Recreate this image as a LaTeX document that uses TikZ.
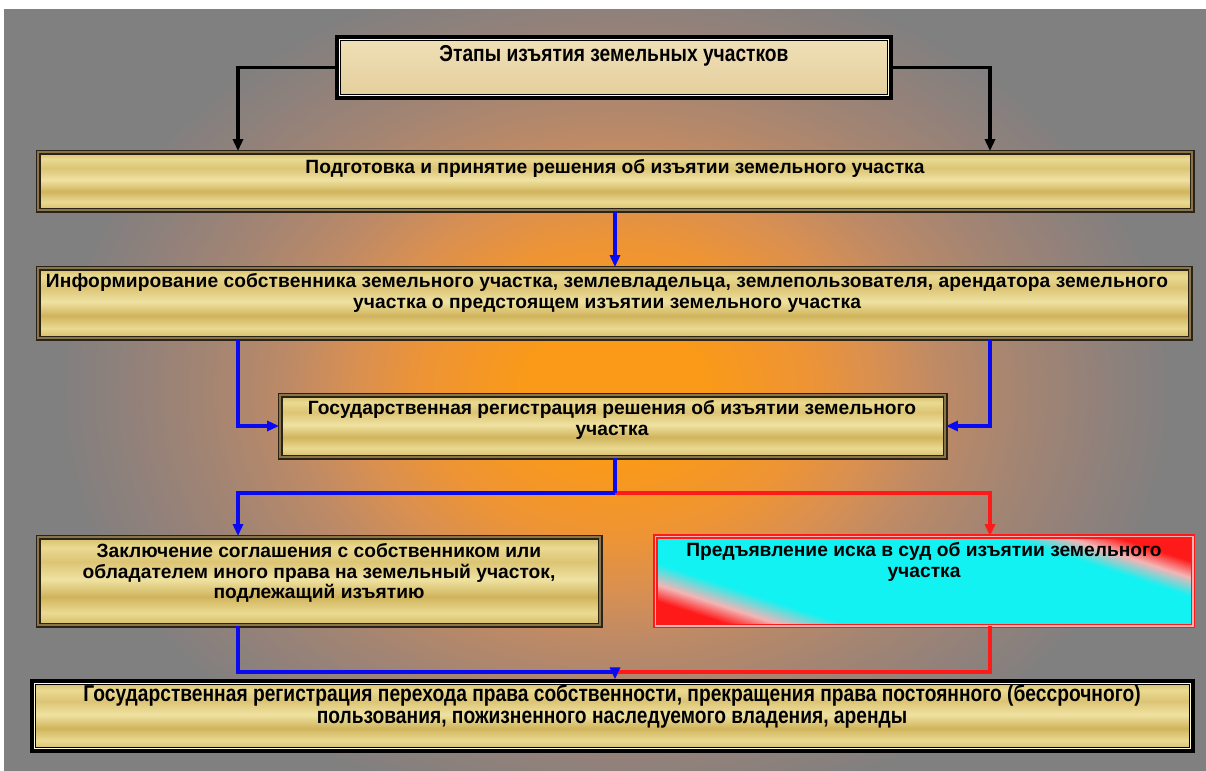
\documentclass[tikz,border=0pt]{standalone}
\usepackage{fontspec}
\setmainfont{Liberation Sans}
\newfontfamily\narrowfont[FakeStretch=0.835]{Liberation Sans}
\usetikzlibrary{arrows.meta,calc}
\definecolor{bggr}{HTML}{808080}
\definecolor{bgor}{HTML}{FA9A18}
\definecolor{bgcb}{HTML}{EE9434}
\definecolor{bgcc}{HTML}{DA9050}
\definecolor{bgcd}{HTML}{BE8A66}
\definecolor{bgce}{HTML}{A58572}
\definecolor{bgcf}{HTML}{92817A}
\definecolor{gA}{HTML}{D6BD68}
\definecolor{gB}{HTML}{EADA92}
\definecolor{gC}{HTML}{D0B45C}
\definecolor{gD}{HTML}{DCC474}
\definecolor{gE}{HTML}{EFE2A2}
\definecolor{pink}{HTML}{F4B4B4}
\definecolor{cyanC}{HTML}{12F2F2}
\definecolor{redC}{HTML}{FF1A1A}
\definecolor{bordC}{HTML}{2A2418}
\definecolor{bordL}{HTML}{8A7448}
\definecolor{papA}{HTML}{F0E0B8}
\definecolor{papB}{HTML}{E4CE9C}
\definecolor{blueC}{HTML}{0A0AF0}
\pgfdeclareradialshading{bgshade}{\pgfpoint{0bp}{0bp}}{color(0bp)=(bgor);color(4bp)=(bgor);color(8.5bp)=(bgcb);color(11.5bp)=(bgcc);color(14.5bp)=(bgcd);color(18bp)=(bgce);color(21.5bp)=(bgcf);color(25bp)=(bggr);color(50bp)=(bggr)}
\pgfdeclareverticalshading{goldshade}{100bp}{color(0bp)=(gA);color(25bp)=(gA);color(32bp)=(gB);color(41bp)=(gC);color(51bp)=(gE);color(61bp)=(gD);color(69bp)=(gB);color(75bp)=(gA);color(100bp)=(gA)}
\pgfdeclareverticalshading{cyanred}{100bp}{color(0bp)=(redC);color(30.5bp)=(redC);color(33.5bp)=(pink);color(37.5bp)=(cyanC);color(63bp)=(cyanC);color(66.5bp)=(pink);color(69.5bp)=(redC);color(100bp)=(redC)}
\tikzset{
  goldbox/.style={draw=bordC, line width=0.9pt, double=bordL, double distance=0.7pt, shading=goldshade, inner sep=0pt},
  thickbox/.style={draw=black, line width=2.6pt, inner sep=0pt},
  redbox/.style={draw=redC, line width=0.8pt, double=pink, double distance=0.7pt, inner sep=0pt},
  txt/.style={align=center, inner sep=0pt, font=\bfseries\fontsize{9.6}{10.4}\selectfont, text=black},
  ntxt/.style={align=center, inner sep=0pt, font=\narrowfont\bfseries\fontsize{11.5}{11}\selectfont, text=black},
  conn/.style={line width=1.6pt, -{Triangle[length=6pt,width=5pt]}},
  plain/.style={line width=1.6pt},
}
\begin{document}
\begin{tikzpicture}[x=0.5pt,y=-0.5pt]
\useasboundingbox (0,0) rectangle (1206,771);
\fill[white] (0,0) rectangle (1206,771);
\begin{scope}
\clip (4,9) rectangle (1206,771);
\fill[bggr] (4,9) rectangle (1206,771);
\shade[shading=bgshade] (615,390) ellipse [x radius=560, y radius=430];
\end{scope}
% boxes
\node[thickbox, top color=papA, bottom color=papB, minimum width=276pt, minimum height=29.5pt] (t) at (614,67.5) {};
\node[goldbox, minimum width=577pt, minimum height=29pt] (b2) at (615,181) {};
\node[goldbox, minimum width=576pt, minimum height=35pt] (b3) at (614,303) {};
\node[goldbox, minimum width=332.5pt, minimum height=31pt] (b4) at (612.5,426) {};
\node[goldbox, minimum width=281pt, minimum height=44pt] (b5) at (319,581) {};
\node[redbox, minimum width=268pt, minimum height=44pt] (b6) at (924,581) {};
\begin{scope}
\clip (b6.north west) rectangle (b6.south east);
\shade[shading=cyanred, transform canvas={rotate around={-18:(b6.center)}}] ($(b6.center)+(-320,-130)$) rectangle ($(b6.center)+(320,130)$);
\end{scope}
\draw[redbox] (b6.north west) rectangle (b6.south east);
\node[thickbox, shading=goldshade, minimum width=579.5pt, minimum height=34pt] (b7) at (612.5,716) {};
\draw[white!85!yellow, line width=0.5pt] ([shift={(3.8,3.8)}]t.north west) rectangle ([shift={(-3.8,-3.8)}]t.south east);
\draw[white!85!yellow, line width=0.5pt] ([shift={(3.8,3.8)}]b7.north west) rectangle ([shift={(-3.8,-3.8)}]b7.south east);
% texts
\node[ntxt] (tt) at (614,56) {Этапы изъятия земельных участков};
\node[txt] (t2) at (615,168) {Подготовка и принятие решения об изъятии земельного участка};
\node[txt, font=\bfseries\fontsize{9.6}{10.4}\selectfont\addfontfeatures{LetterSpace=0.5}] (t3) at (607,293) {Информирование собственника земельного участка, землевладельца, землепользователя, арендатора земельного\\участка о предстоящем изъятии земельного участка};
\node[txt] (t4) at (612,420) {Государственная регистрация решения об изъятии земельного\\участка};
\node[txt] (t5) at (319,573) {Заключение соглашения с собственником или\\обладателем иного права на земельный участок,\\подлежащий изъятию};
\node[txt] (t6) at (924,562) {Предъявление иска в суд об изъятии земельного\\участка};
\node[ntxt] (t7) at (612,706) {Государственная регистрация перехода права собственности, прекращения права постоянного (бессрочного)\\пользования, пожизненного наследуемого владения, аренды};
% connectors
\coordinate (xL) at (238,0);
\coordinate (xR) at (990,0);
\coordinate (split) at (615,493);
\coordinate (merge) at (615,672);
\draw[conn, black] (t.west) -| (xL |- b2.north);
\draw[conn, black] (t.east) -| (xR |- b2.north);
\draw[conn, blueC] (b2.south) -- (b2.south |- b3.north);
\draw[conn, blueC] (xL |- b3.south) |- (b4.west);
\draw[conn, blueC] (xR |- b3.south) |- (b4.east);
\draw[conn, redC] (split) -| (xR |- b6.north);
\draw[plain, blueC] (split |- b4.south) -- (split);
\draw[conn, blueC] (split) -| (xL |- b5.north);
\draw[plain, redC] (xR |- b6.south) |- (merge);
\draw[plain, blueC] (xL |- b5.south) |- (merge);
\draw[conn, blueC] (merge) -- (merge |- b7.north);
\end{tikzpicture}
\end{document}
